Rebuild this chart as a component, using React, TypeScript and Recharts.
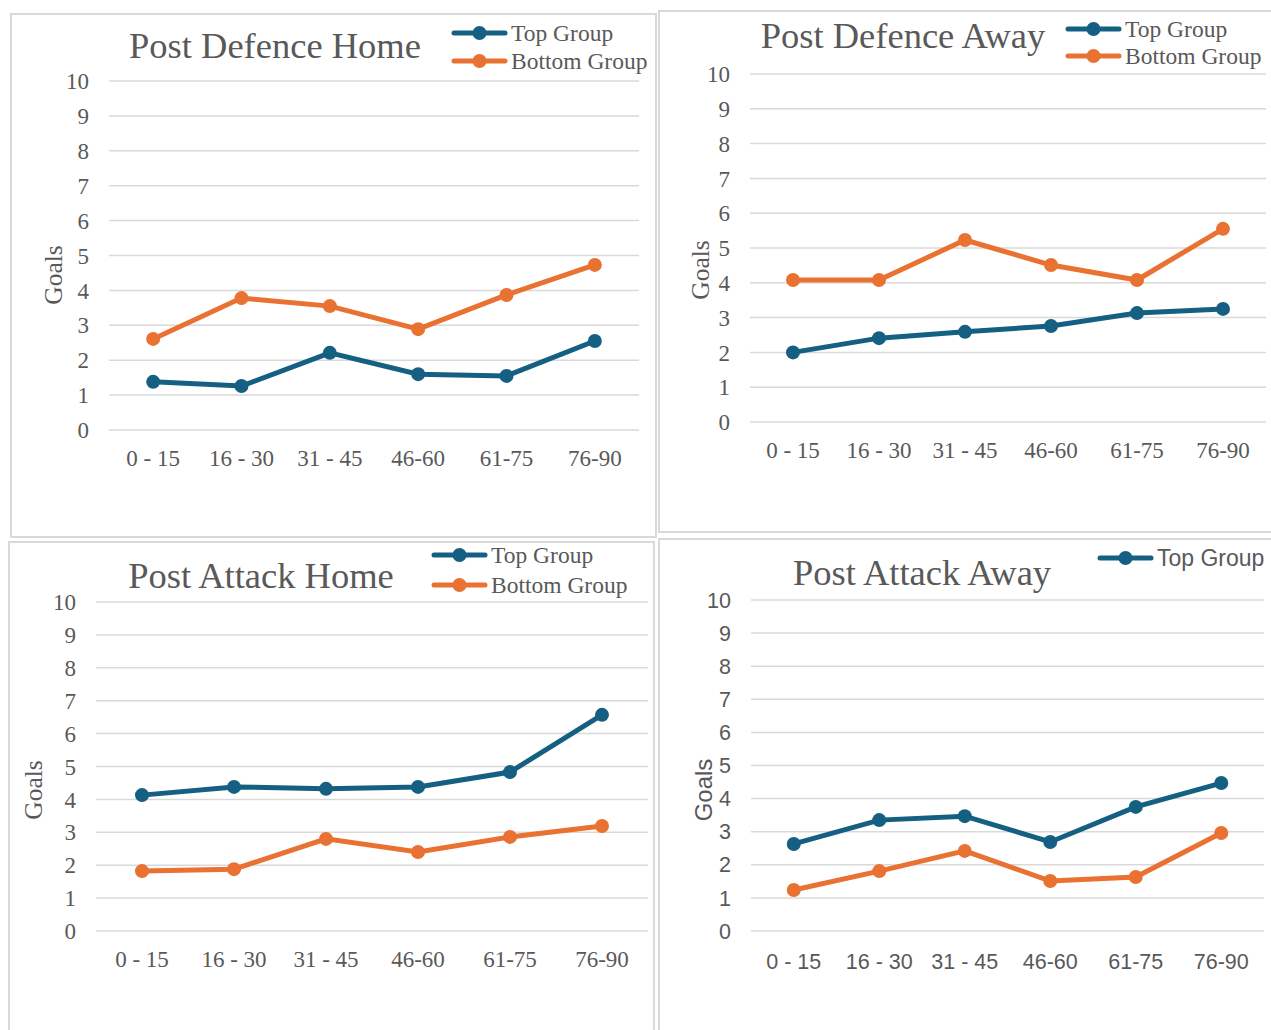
import React from "react";
import { LineChart, Line, XAxis, YAxis, CartesianGrid } from "recharts";

const CATEGORIES = ["0 - 15", "16 - 30", "31 - 45", "46-60", "61-75", "76-90"];
const Y_TICKS = [0, 1, 2, 3, 4, 5, 6, 7, 8, 9, 10];

const DEF_HOME_TOP = [1.38, 1.26, 2.21, 1.6, 1.55, 2.55];
const DEF_HOME_BOTTOM = [2.61, 3.78, 3.55, 2.89, 3.87, 4.73];
const DEF_AWAY_TOP = [2.0, 2.41, 2.59, 2.76, 3.13, 3.25];
const DEF_AWAY_BOTTOM = [4.08, 4.08, 5.23, 4.51, 4.08, 5.55];
const ATT_HOME_TOP = [4.13, 4.38, 4.32, 4.38, 4.83, 6.57];
const ATT_HOME_BOTTOM = [1.82, 1.88, 2.8, 2.4, 2.86, 3.19];
const ATT_AWAY_TOP = [2.63, 3.35, 3.47, 2.69, 3.75, 4.47];
const ATT_AWAY_BOTTOM = [1.24, 1.81, 2.42, 1.51, 1.63, 2.96];

const TOP_COLOR = "#156082";
const BOTTOM_COLOR = "#e97132";
const TEXT = "#595959";
const GRID = "#d9d9d9";
const SERIF = "'Liberation Serif', 'Times New Roman', serif";
const SANS = "'Liberation Sans', Arial, sans-serif";

const Y_AXIS_W = 50;
const X_AXIS_H = 40;

type Panel = {
  title: string;
  top: number[];
  bottom: number[];
  box: [number, number, number, number]; // left, top, width, height
  plot: [number, number, number, number]; // left, top (10), right, bottom (0)
  titleAt: [number, number];
  legendAt: [number, number, number]; // sample left, first row y, row gap
  legendItems: number;
  goalsAt: [number, number];
  sans: boolean;
  xTickMargin: number;
};

const PANELS: Panel[] = [
  {
    title: "Post Defence Home",
    top: DEF_HOME_TOP,
    bottom: DEF_HOME_BOTTOM,
    box: [10, 13, 647, 525],
    plot: [109, 81, 639, 430],
    titleAt: [275, 58],
    legendAt: [452, 33, 28],
    legendItems: 2,
    goalsAt: [53, 275],
    sans: false,
    xTickMargin: 13.5,
  },
  {
    title: "Post Defence Away",
    top: DEF_AWAY_TOP,
    bottom: DEF_AWAY_BOTTOM,
    box: [658, 10, 615, 523],
    plot: [750, 74, 1266, 422],
    titleAt: [903, 48],
    legendAt: [1066, 29, 27],
    legendItems: 2,
    goalsAt: [700, 270],
    sans: false,
    xTickMargin: 13.5,
  },
  {
    title: "Post Attack Home",
    top: ATT_HOME_TOP,
    bottom: ATT_HOME_BOTTOM,
    box: [8, 541, 647, 500],
    plot: [96, 602, 648, 931],
    titleAt: [261, 588],
    legendAt: [432, 555, 30],
    legendItems: 2,
    goalsAt: [33, 790],
    sans: false,
    xTickMargin: 13.5,
  },
  {
    title: "Post Attack Away",
    top: ATT_AWAY_TOP,
    bottom: ATT_AWAY_BOTTOM,
    box: [658, 538, 615, 500],
    plot: [751, 600, 1264, 931],
    titleAt: [922, 585],
    legendAt: [1098, 558, 28],
    legendItems: 1,
    goalsAt: [703, 790],
    sans: true,
    xTickMargin: 17,
  },
];

const LEGEND = [
  { name: "Top Group", color: TOP_COLOR },
  { name: "Bottom Group", color: BOTTOM_COLOR },
];

function ChartPanel({ p }: { p: Panel }) {
  const [bl, bt, bw, bh] = p.box;
  const [pl, pt, pr, pb] = p.plot;
  const data = CATEGORIES.map((c, i) => ({ period: c, top: p.top[i], bottom: p.bottom[i] }));
  const half = (pr - pl) / CATEGORIES.length / 2;
  const font = p.sans ? SANS : SERIF;
  const size = p.sans ? 21.5 : 23;

  return (
    <div style={{ position: "absolute", left: bl, top: bt, width: bw, height: bh }}>
      <LineChart
        width={bw}
        height={bh}
        data={data}
        margin={{
          left: pl - bl - Y_AXIS_W,
          top: pt - bt,
          right: bl + bw - pr,
          bottom: bt + bh - pb - X_AXIS_H,
        }}
      >
        <CartesianGrid vertical={false} stroke={GRID} strokeWidth={1.5} />
        <XAxis
          dataKey="period"
          height={X_AXIS_H}
          axisLine={false}
          tickLine={false}
          tickMargin={p.xTickMargin}
          padding={{ left: half, right: half }}
          interval={0}
          tick={{ fill: TEXT, fontFamily: font, fontSize: size }}
        />
        <YAxis
          width={Y_AXIS_W}
          domain={[0, 10]}
          ticks={Y_TICKS}
          axisLine={false}
          tickLine={false}
          tickMargin={14}
          tick={{ fill: TEXT, fontFamily: font, fontSize: size }}
        />
        <Line
          dataKey="top"
          stroke={TOP_COLOR}
          strokeWidth={5}
          dot={{ r: 7, fill: TOP_COLOR, stroke: TOP_COLOR, strokeWidth: 0 }}
          activeDot={false}
          isAnimationActive={false}
        />
        <Line
          dataKey="bottom"
          stroke={BOTTOM_COLOR}
          strokeWidth={5}
          dot={{ r: 7, fill: BOTTOM_COLOR, stroke: BOTTOM_COLOR, strokeWidth: 0 }}
          activeDot={false}
          isAnimationActive={false}
        />
      </LineChart>
    </div>
  );
}

function Labels({ p }: { p: Panel }) {
  const [lx, ly, gap] = p.legendAt;
  const font = p.sans ? SANS : SERIF;
  return (
    <g>
      <text x={p.titleAt[0]} y={p.titleAt[1]} textAnchor="middle" fill={TEXT} fontFamily={SERIF} fontSize={36.5}>
        {p.title}
      </text>
      {LEGEND.slice(0, p.legendItems).map((item, i) => {
        const y = ly + i * gap;
        return (
          <g key={item.name}>
            <line x1={lx + 2} x2={lx + 53} y1={y} y2={y} stroke={item.color} strokeWidth={5} strokeLinecap="round" />
            <circle cx={lx + 27.5} cy={y} r={7} fill={item.color} />
            <text x={lx + 59} y={y} dominantBaseline="central" fill={TEXT} fontFamily={font} fontSize={p.sans ? 23 : 23.5}>
              {item.name}
            </text>
          </g>
        );
      })}
      <text
        x={p.goalsAt[0]}
        y={p.goalsAt[1]}
        transform={`rotate(-90 ${p.goalsAt[0]} ${p.goalsAt[1]})`}
        textAnchor="middle"
        dominantBaseline="central"
        fill={TEXT}
        fontFamily={font}
        fontSize={p.sans ? 24 : 25.5}
      >
        Goals
      </text>
    </g>
  );
}

export default function App() {
  return (
    <div style={{ position: "absolute", left: 0, top: 0, width: 1271, height: 1030, background: "#fff", overflow: "hidden" }}>
      {PANELS.map((p) => (
        <div
          key={p.title + "-frame"}
          style={{
            position: "absolute",
            left: p.box[0],
            top: p.box[1],
            width: p.box[2],
            height: p.box[3],
            border: `2px solid ${GRID}`,
            boxSizing: "border-box",
          }}
        />
      ))}
      {PANELS.map((p) => (
        <ChartPanel key={p.title} p={p} />
      ))}
      <svg width={1271} height={1030} style={{ position: "absolute", left: 0, top: 0, pointerEvents: "none" }}>
        {PANELS.map((p) => (
          <Labels key={p.title + "-labels"} p={p} />
        ))}
      </svg>
    </div>
  );
}
